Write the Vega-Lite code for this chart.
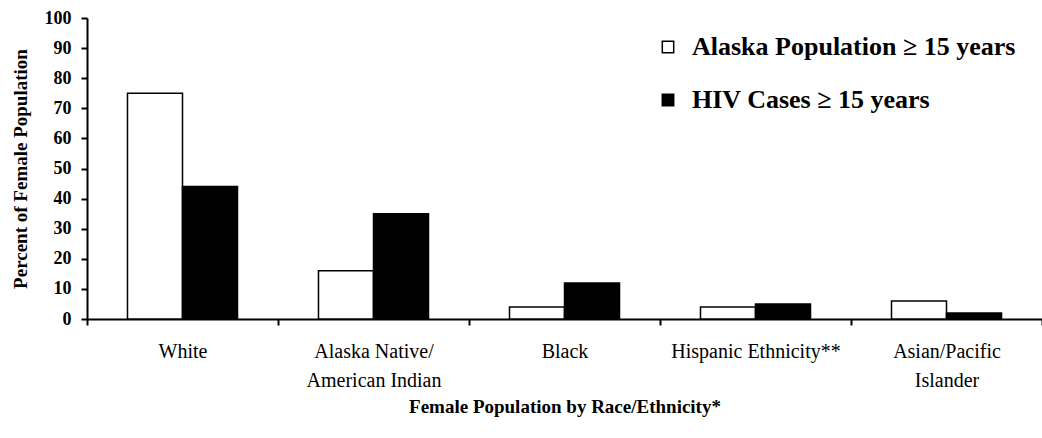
{
  "$schema": "https://vega.github.io/schema/vega-lite/v6.json",
  "autosize": "none",
  "width": 955,
  "height": 301,
  "padding": {"left": 87, "top": 18, "right": 0, "bottom": 119},
  "background": "white",
  "config": {
    "font": "Liberation Serif",
    "view": {"stroke": null}
  },
  "data": {
    "values": [
      {"group": "White", "series": "Alaska Population ≥ 15 years", "value": 75},
      {"group": "White", "series": "HIV Cases ≥ 15 years", "value": 44},
      {"group": "Alaska Native/|American Indian", "series": "Alaska Population ≥ 15 years", "value": 16},
      {"group": "Alaska Native/|American Indian", "series": "HIV Cases ≥ 15 years", "value": 35},
      {"group": "Black", "series": "Alaska Population ≥ 15 years", "value": 4},
      {"group": "Black", "series": "HIV Cases ≥ 15 years", "value": 12},
      {"group": "Hispanic Ethnicity**", "series": "Alaska Population ≥ 15 years", "value": 4},
      {"group": "Hispanic Ethnicity**", "series": "HIV Cases ≥ 15 years", "value": 5},
      {"group": "Asian/Pacific|Islander", "series": "Alaska Population ≥ 15 years", "value": 6},
      {"group": "Asian/Pacific|Islander", "series": "HIV Cases ≥ 15 years", "value": 2}
    ]
  },
  "mark": {"type": "bar", "stroke": "black", "strokeWidth": 1.5},
  "encoding": {
    "x": {
      "field": "group",
      "type": "nominal",
      "sort": null,
      "scale": {"paddingInner": 0, "paddingOuter": 0},
      "axis": {
        "title": "Female Population by Race/Ethnicity*",
        "titleFont": "Liberation Serif",
        "titleFontSize": 19,
        "titleFontWeight": "bold",
        "titleColor": "black",
        "titlePadding": 7,
        "labelAngle": 0,
        "labelFont": "Liberation Serif",
        "labelFontSize": 20,
        "labelColor": "black",
        "labelPadding": 16,
        "labelExpr": "split(datum.label, '|')",
        "labelLineHeight": 29,
        "labelBaseline": "top",
        "labelLimit": 200,
        "tickBand": "extent",
        "tickColor": "black",
        "tickWidth": 2,
        "tickSize": 6,
        "domainColor": "black",
        "domainWidth": 2,
        "grid": false
      }
    },
    "xOffset": {
      "field": "series",
      "type": "nominal",
      "scale": {"paddingInner": 0, "paddingOuter": 0.736}
    },
    "y": {
      "field": "value",
      "type": "quantitative",
      "scale": {"domain": [0, 100], "nice": false},
      "axis": {
        "title": "Percent of Female Population",
        "titleFont": "Liberation Serif",
        "titleFontSize": 19,
        "titleFontWeight": "bold",
        "titleColor": "black",
        "titlePadding": 14,
        "values": [0, 10, 20, 30, 40, 50, 60, 70, 80, 90, 100],
        "labelFont": "Liberation Serif",
        "labelFontSize": 18,
        "labelFontWeight": "bold",
        "labelColor": "black",
        "labelPadding": 10,
        "tickColor": "black",
        "tickWidth": 2,
        "tickSize": 6,
        "domainColor": "black",
        "domainWidth": 2,
        "grid": false
      }
    },
    "fill": {
      "field": "series",
      "type": "nominal",
      "scale": {"range": ["white", "black"]},
      "legend": {
        "title": null,
        "orient": "none",
        "legendX": 568,
        "legendY": 16,
        "symbolType": "square",
        "symbolSize": 130,
        "symbolStrokeColor": "black",
        "symbolStrokeWidth": 1.5,
        "labelFont": "Liberation Serif",
        "labelFontSize": 26,
        "labelFontWeight": "bold",
        "labelColor": "black",
        "labelOffset": 11,
        "rowPadding": 27,
        "labelLimit": 450
      }
    }
  }
}
